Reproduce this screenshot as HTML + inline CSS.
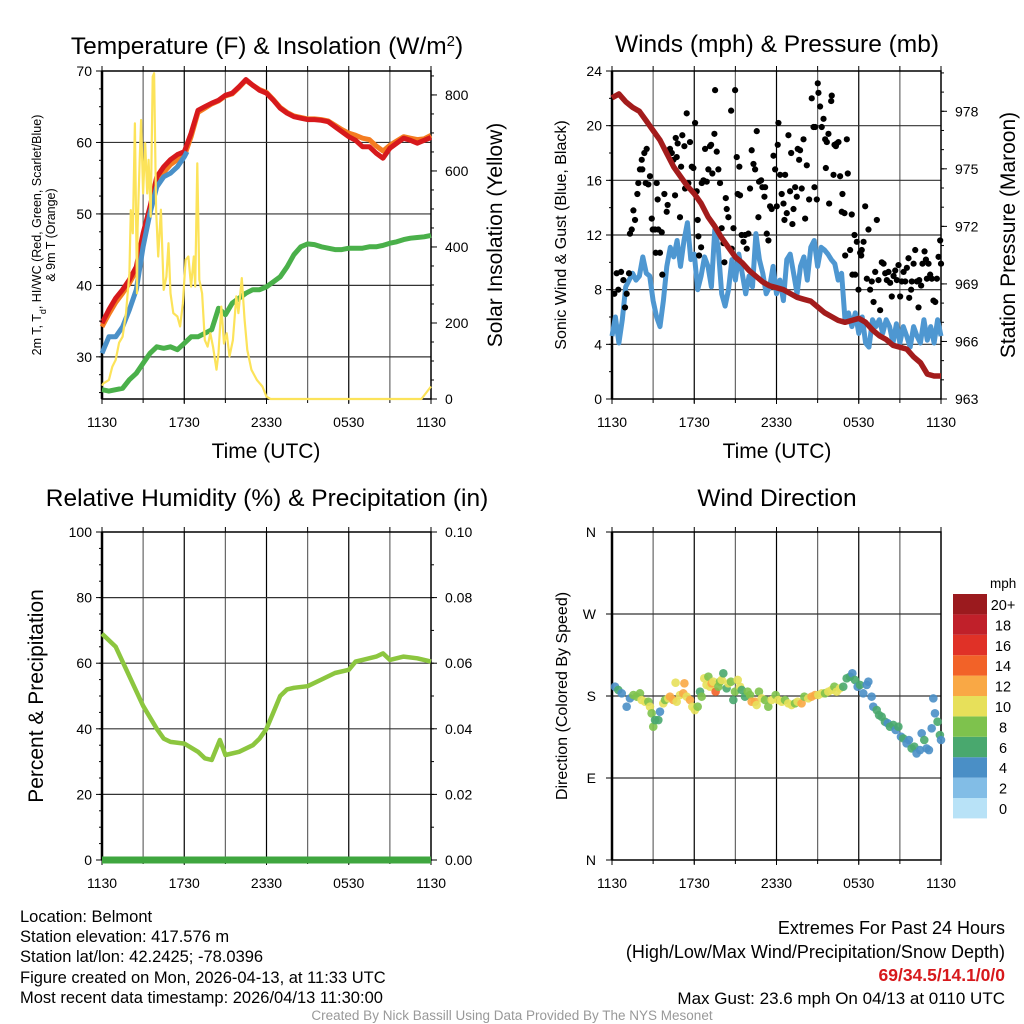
<!DOCTYPE html>
<html><head><meta charset="utf-8">
<style>
html,body{margin:0;padding:0;background:#fff;}
svg{display:block;font-family:"Liberation Sans",Arial,sans-serif;}
</style></head>
<body>
<svg id="s" width="1024" height="1024" viewBox="0 0 1024 1024" xmlns="http://www.w3.org/2000/svg">
<rect width="1024" height="1024" fill="#fff"/>
<text x="267" y="54" font-size="24.5" text-anchor="middle">Temperature (F) &amp; Insolation (W/m<tspan baseline-shift="super" font-size="15">2</tspan>)</text>
<text x="777" y="52" font-size="24.5" text-anchor="middle">Winds (mph) &amp; Pressure (mb)</text>
<text x="267" y="506" font-size="24.5" text-anchor="middle">Relative Humidity (%) &amp; Precipitation (in)</text>
<text x="777" y="506" font-size="24.5" text-anchor="middle">Wind Direction</text>

<text x="266" y="458" font-size="21" text-anchor="middle">Time (UTC)</text>
<text x="777" y="458" font-size="21" text-anchor="middle">Time (UTC)</text>

<text transform="translate(41,235) rotate(-90)" font-size="12.5" text-anchor="middle">2m T, T<tspan baseline-shift="sub" font-size="9">d</tspan>, HI/WC (Red, Green, Scarlet/Blue)</text>
<text transform="translate(55,235) rotate(-90)" font-size="12.5" text-anchor="middle">&amp; 9m T (Orange)</text>
<text transform="translate(502,235) rotate(-90)" font-size="21" text-anchor="middle">Solar Insolation (Yellow)</text>
<text transform="translate(566,235) rotate(-90)" font-size="16" text-anchor="middle">Sonic Wind &amp; Gust (Blue, Black)</text>
<text transform="translate(1015,235) rotate(-90)" font-size="21" text-anchor="middle">Station Pressure (Maroon)</text>
<text transform="translate(43,696) rotate(-90)" font-size="21" text-anchor="middle">Percent &amp; Precipitation</text>
<text transform="translate(567,696) rotate(-90)" font-size="16" text-anchor="middle">Direction (Colored By Speed)</text>

<g font-size="16.5">
<text x="20" y="922">Location: Belmont</text>
<text x="20" y="942">Station elevation: 417.576 m</text>
<text x="20" y="962">Station lat/lon: 42.2425; -78.0396</text>
<text x="20" y="983">Figure created on Mon, 2026-04-13, at 11:33 UTC</text>
<text x="20" y="1003">Most recent data timestamp: 2026/04/13 11:30:00</text>
</g>
<g text-anchor="end">
<text x="1005" y="934" font-size="18">Extremes For Past 24 Hours</text>
<text x="1005" y="958" font-size="18">(High/Low/Max Wind/Precipitation/Snow Depth)</text>
<text x="1005" y="981" font-size="17.5" font-weight="bold" fill="#d7191c">69/34.5/14.1/0/0</text>
<text x="1005" y="1004" font-size="17">Max Gust: 23.6 mph On 04/13 at 0110 UTC</text>
</g>
<text x="512" y="1020" font-size="13.5" fill="#999" text-anchor="middle">Created By Nick Bassill Using Data Provided By The NYS Mesonet</text>
<g id="g"></g>
</svg>
<script>
// ---------- DATA ----------
const tempHours=[0,0.5,1,1.5,2,2.5,3,3.5,4,4.5,5,5.5,6,6.5,7,7.5,8,8.5,9,9.5,10,10.5,11,11.5,12,12.5,13,13.5,14,14.5,15,15.5,16,16.5,17,17.5,18,18.5,19,19.5,20,20.5,21,21.5,22,22.5,23,23.5,24];
const temp2m=[34.7,36.6,38.2,39.4,40.8,42.6,47.3,51,55.2,56.6,57.6,58.3,58.7,61.3,64.5,65,65.5,65.9,66.6,66.9,67.8,68.8,68,67.3,66.9,65.9,64.8,64.1,63.6,63.4,63.2,63.2,63.1,62.9,62.2,61.5,60.8,60.3,59.4,59.4,58.5,57.8,59.2,59.9,60.6,60.3,59.9,60.3,60.7];
const temp9m=[34.2,36,37.6,38.9,40.3,42.1,46.6,50.4,54.4,55.8,56.9,57.6,58.1,60.8,64.2,64.8,65.4,65.8,66.5,66.8,67.7,68.7,68,67.4,67,66,64.9,64.2,63.7,63.5,63.3,63.3,63.2,63,62.4,61.8,61.3,61,60.6,60.4,59.5,58.8,59.6,60.2,60.8,60.6,60.4,60.5,61];
const windChillHours=[0,0.5,1,1.5,2,2.5,3,3.5,4,4.5,5,5.5,6,6.2];
const windChill=[30.5,32.8,32.8,34.2,36.6,39.4,45.4,50.1,53.8,55.2,55.7,56.6,58,58.7];
const dewpoint=[25.4,25.2,25.4,25.6,26.8,27.7,29.1,30.5,31.4,31.2,31.4,31,31.9,32.8,32.8,33.3,33.8,36.8,35.9,37.5,38.2,38.9,39.4,39.4,39.8,40.5,41.2,42.6,44.3,45.4,45.8,45.7,45.4,45.2,45,45,45.2,45.2,45.2,45.4,45.4,45.6,45.9,46.1,46.4,46.6,46.7,46.8,47];
const solarHours=[0,0.1,0.5,0.75,1,1.25,1.5,1.75,2,2.1,2.25,2.4,2.55,2.6,2.75,2.85,3,3.15,3.3,3.4,3.55,3.7,3.8,3.95,4.1,4.3,4.5,4.7,4.85,5,5.2,5.5,5.7,5.9,6.1,6.3,6.5,6.7,6.8,6.95,7.1,7.3,7.5,7.7,7.9,8.1,8.35,8.5,8.7,8.9,9.1,9.3,9.55,9.8,9.95,10.2,10.4,10.6,10.9,11.3,11.7,12,12.3,23.3,24];
const solar=[35,41,50,85,103,148,164,226,331,497,436,725,278,450,629,734,541,673,541,629,480,848,857,498,375,498,287,322,410,278,226,217,191,252,366,375,296,375,296,620,314,278,155,138,173,138,77,121,243,146,173,112,155,270,226,318,208,129,77,50,33,6,0,0,33];
const windHours=[0,0.25,0.5,0.75,1,1.25,1.5,1.75,2,2.25,2.5,2.75,3,3.25,3.5,3.75,4,4.25,4.5,4.75,5,5.25,5.5,5.75,6,6.25,6.5,6.75,7,7.25,7.5,7.75,8,8.25,8.5,8.75,9,9.25,9.5,9.75,10,10.25,10.5,10.75,11,11.25,11.5,11.75,12,12.25,12.5,12.75,13,13.25,13.5,13.75,14,14.25,14.5,14.75,15,15.25,15.5,15.75,16,16.25,16.5,16.75,17,17.25,17.5,17.75,18,18.25,18.5,18.75,19,19.25,19.5,19.75,20,20.25,20.5,20.75,21,21.25,21.5,21.75,22,22.25,22.5,22.75,23,23.25,23.5,23.75,24];
const windSpeed=[4.6,6.0,4.1,5.8,8.2,8.7,9.2,8.7,9.0,10.4,9.2,9.0,7.2,6.0,5.3,7.2,9.7,11.1,10.4,11.6,9.7,11.6,12.9,10.2,10.6,8.0,9.0,10.4,9.7,8.2,12.4,11.1,7.7,6.8,8.0,10.2,8.7,10.6,9.2,7.7,9.0,8.2,12.1,10.2,9.2,7.7,8.2,9.7,7.7,8.7,7.2,10.2,10.6,9.2,7.7,9.7,10.4,8.7,11.1,11.6,9.7,11.1,10.9,10.6,10.2,9.9,8.7,9.2,5.8,6.3,5.3,6.3,4.8,6.0,4.1,3.8,5.8,5.3,5.8,4.8,5.8,5.3,4.1,5.5,4.1,5.3,4.6,3.8,5.3,4.6,4.1,5.8,4.3,5.3,4.1,5.8,4.6];
const pressure=[978.7,978.9,978.5,978.2,978.0,977.5,977.0,976.5,975.8,975.1,974.6,974.1,973.7,973.2,972.5,972.0,971.4,970.9,970.4,970.1,969.7,969.4,969.1,968.9,968.8,968.7,968.5,968.3,968.2,968.1,967.8,967.5,967.3,967.1,967.0,967.1,967.2,967.0,966.6,966.3,966.1,965.8,965.7,965.6,965.2,964.9,964.3,964.2,964.2];
const gustHours=[0.17,0.34,0.46,0.66,0.83,0.95,1.07,1.24,1.31,1.44,1.56,1.68,1.85,1.92,2.04,2.17,2.21,2.36,2.46,2.53,2.65,2.77,2.9,2.97,3.14,3.19,3.26,3.33,3.38,3.5,3.63,3.67,3.82,3.99,4.06,4.11,4.23,4.36,4.48,4.6,4.65,4.72,4.79,4.96,5.04,5.13,5.28,5.33,5.45,5.57,5.69,5.82,5.94,6.06,6.18,6.25,6.3,6.35,6.5,6.55,6.67,6.79,6.91,7.03,7.15,7.23,7.32,7.47,7.52,7.64,7.76,7.88,8.0,8.13,8.2,8.3,8.37,8.49,8.69,8.73,8.86,8.98,9.1,9.17,9.29,9.34,9.46,9.59,9.71,9.83,9.95,10.07,10.19,10.32,10.44,10.56,10.68,10.73,10.88,10.97,11.12,11.17,11.29,11.41,11.53,11.65,11.78,11.9,12.02,12.09,12.14,12.26,12.38,12.51,12.58,12.63,12.75,12.87,12.99,13.07,13.16,13.24,13.36,13.48,13.55,13.65,13.72,13.84,13.97,14.09,14.21,14.38,14.57,14.7,14.77,14.82,14.94,15.01,15.06,15.18,15.3,15.43,15.55,15.6,15.67,15.79,15.84,15.99,16.03,16.16,16.23,16.33,16.4,16.52,16.64,16.76,16.81,16.96,17.01,17.13,17.2,17.37,17.49,17.54,17.69,17.74,17.86,17.98,18.1,18.18,18.22,18.35,18.47,18.59,18.71,18.83,18.95,19.08,19.2,19.32,19.44,19.56,19.68,19.81,19.93,20.05,20.17,20.29,20.41,20.54,20.66,20.78,20.9,21.02,21.14,21.27,21.39,21.51,21.63,21.68,21.82,21.87,22.0,22.12,22.24,22.36,22.41,22.55,22.65,22.8,22.9,22.97,23.09,23.21,23.33,23.45,23.58,23.7,23.82,23.94,24.0];
const gustSpeed=[7.7,9.2,8.0,9.3,8.7,6.7,7.7,9.2,12.1,12.4,13.8,13.1,15.0,15.8,16.8,17.5,16.8,18.0,15.8,18.3,15.7,16.3,13.2,12.4,12.4,10.7,15.8,14.6,12.4,10.7,12.2,9.1,15.0,13.7,14.2,18.2,18.3,18.0,17.5,14.9,19.1,17.7,18.7,13.3,17.0,19.3,18.5,15.4,20.9,15.8,18.8,17.0,16.9,20.2,15.2,13.1,11.9,10.5,11.1,15.8,16.0,18.3,15.9,16.8,18.5,18.6,16.5,19.4,22.6,18.1,16.8,15.8,12.5,11.4,10.0,14.7,13.9,13.3,21.1,11.0,12.5,22.6,17.7,15.0,17.0,14.9,12.0,11.5,12.0,11.0,12.1,15.4,18.2,17.2,16.8,19.6,13.3,15.9,16.0,15.5,14.8,15.5,12.1,11.6,14.1,13.9,17.8,16.8,14.1,18.6,20.2,16.4,15.0,14.3,13.1,16.4,13.6,19.3,15.2,18.0,12.8,13.9,15.5,14.8,18.3,17.5,18.2,15.4,19.0,13.2,17.1,14.6,22.0,19.9,15.5,19.9,14.6,23.1,22.4,21.4,19.9,20.5,19.0,16.9,18.8,19.4,14.3,21.8,22.2,16.4,18.6,18.5,18.7,18.8,16.3,13.7,15.0,13.6,10.5,19.0,16.5,10.9,13.5,9.1,12.0,9.1,11.5,8.0,10.7,10.5,10.9,11.5,14.1,8.8,12.4,8.0,8.6,7.1,9.3,13.1,8.7,6.5,10.0,9.9,9.2,8.7,9.3,8.5,7.5,9.0,9.4,8.7,9.8,7.5,8.6,9.3,8.6,9.6,10.3,7.4,8.0,8.6,9.9,10.9,8.6,6.7,8.7,8.3,9.9,10.8,10.2,8.8,9.9,9.1,8.8,7.2,7.1,8.8,10.4,11.6,9.9];
const rhHours=[0,1,2,3,4,4.5,5,6,7,7.5,8,8.6,9,10,11,11.5,12,12.5,13,13.5,14,15,16,17,18,18.5,19,20,20.5,21,22,23,24];
const rh=[69,65,56,47,40,37,36,35.5,33,31,30.5,36.6,32,33,35,37,40,45,50,52,52.5,53,55,57,58,60.5,61,62,63,61,62,61.5,60.5];
const precipHours=[0,24];
const precip=[0,0];
const dirHours=[0.22,0.46,0.71,1.07,1.31,1.56,1.80,2.04,2.16,2.41,2.65,2.77,2.89,3.01,3.14,3.38,3.50,3.74,3.87,4.11,4.23,4.47,4.64,4.72,4.96,5.20,5.28,5.45,5.69,5.86,6.05,6.25,6.42,6.54,6.73,6.90,7.03,7.15,7.27,7.39,7.56,7.76,7.88,8.00,8.12,8.36,8.49,8.68,8.85,8.97,9.17,9.34,9.46,9.70,9.90,10.07,10.19,10.43,10.55,10.72,10.92,11.16,11.40,11.65,11.94,12.13,12.38,12.62,12.86,13.10,13.35,13.54,13.83,14.03,14.32,14.56,14.81,15.05,15.30,15.54,15.78,16.02,16.22,16.39,16.63,16.87,17.12,17.36,17.53,17.72,17.92,18.09,18.33,18.58,18.70,18.94,19.06,19.31,19.48,19.67,19.91,20.11,20.28,20.52,20.69,20.89,21.08,21.25,21.49,21.66,21.86,22.05,22.22,22.47,22.59,22.78,22.95,23.12,23.32,23.44,23.56,23.75,23.92,24.0];
const dirValues=[190.2,186.6,182.9,168.3,177.4,181.1,179.3,182.9,175.6,173.8,173.8,168.3,161,146.3,153.6,153.6,162.8,171.9,175.6,177.4,179.3,175.6,194.6,173.8,181.1,182.9,193.9,179.3,175.6,168.3,164.6,168.3,184.8,179.3,199.4,192.1,201.2,190.2,193.9,195.7,184.8,190.2,195.7,197.6,204.9,188.4,193.9,195.7,175.6,184.8,197.6,190.2,186.6,179.3,184.8,181.1,173.8,173.8,170.1,184.8,177.4,175.6,168.3,175.6,181.1,175.6,173.8,175.6,171.9,170.1,171.9,173.8,171.9,179.3,177.4,179.3,181.1,181.1,182.9,182.9,184.8,186.6,190.2,184.8,188.4,190.2,199.4,201.2,204.9,197.6,190.2,192.1,182.9,192.1,195.7,179.3,168.3,164.6,159.1,157.3,151.8,150,146.3,148.2,142.7,146.3,135.3,133.5,128,131.7,122.5,124.4,117,120.7,139,131.7,122.5,120.7,144.5,177.4,161,151.8,137.2,131.7,142.7];
const dirSpeeds=[4,6,4,4,4,8,8,8,10,10,8,10,8,8,6,6,4,10,8,10,12,12,10,10,10,12,12,10,12,10,10,8,6,8,10,10,8,10,12,10,14,8,8,10,6,6,10,8,6,8,10,10,6,6,8,8,12,12,10,8,10,8,8,10,8,10,10,8,10,10,8,10,12,8,10,12,12,10,10,8,10,10,8,10,10,6,6,6,4,6,4,6,4,4,4,4,4,6,6,6,6,4,6,6,4,6,4,6,4,4,6,6,4,4,4,6,4,4,4,4,4,6,6,4];
const colorLabels=["0","2","4","6","8","10","12","14","16","18","20+"];
const speedColors=["#b8e2f7","#82bde6","#4a8fc6","#49a86e","#7ec24d","#e7e05a","#f9a845","#f26228","#e03127","#c0202a","#9b1a1e"];
const timeTicks=["1130","1730","2330","0530","1130"];

// ---------- HELPERS ----------
const NS="http://www.w3.org/2000/svg";
const G=document.getElementById('g');
function mk(tag,attrs,parent){const e=document.createElementNS(NS,tag);for(const k in attrs)e.setAttribute(k,attrs[k]);(parent||G).appendChild(e);return e;}
function xScale(p){return h=>p.x0+h/24*(p.x1-p.x0);}
function yScale(p,lo,hi){return v=>p.y1-(v-lo)/(hi-lo)*(p.y1-p.y0);}
function pathD(xs,ys,sx,sy){return xs.map((h,i)=>(i?'L':'M')+sx(h).toFixed(1)+','+sy(ys[i]).toFixed(1)).join('');}

const P1={x0:102,x1:431,y0:71,y1:399},P2={x0:612,x1:941,y0:71,y1:399},P3={x0:102,x1:431,y0:532,y1:860},P4={x0:612,x1:941,y0:532,y1:860};

function frame(p,name,hLines){
  const g=mk('g',{});
  
  
  for(let i=1;i<8;i++){const x=p.x0+i*(p.x1-p.x0)/8;mk('line',{x1:x,x2:x,y1:p.y0,y2:p.y1,stroke:i%2?'#666':'#000','stroke-width':1.2},g);}
  hLines.forEach(y=>{mk('line',{x1:p.x0,x2:p.x1,y1:y,y2:y,stroke:'#333','stroke-width':1.2},g);});
  const b=mk('rect',{x:p.x0,y:p.y0,width:p.x1-p.x0,height:p.y1-p.y0,fill:'none',stroke:'#000','stroke-width':1.5});
  
  
  mk('line',{x1:p.x0,x2:p.x0,y1:p.y0,y2:p.y1,stroke:'#000','stroke-width':2.5});
  const sx=xScale(p);
  timeTicks.forEach((t,i)=>{const x=sx(i*6);mk('line',{x1:x,x2:x,y1:p.y1,y2:p.y1+5,stroke:'#000'});
    const tx=mk('text',{x:x,y:p.y1+28,'font-size':14,'text-anchor':'middle'});tx.textContent=t;
    
    });
  for(let h=0;h<=24;h+=3){const x=sx(h);mk('line',{x1:x,x2:x,y1:p.y0-5,y2:p.y0,stroke:'#000'});mk('line',{x1:x,x2:x,y1:p.y1,y2:p.y1+4,stroke:'#000'});}
}
function yTicks(p,vals,sy,side,fmt,minorStep,lo,hi){
  const x=side==='l'?p.x0:p.x1;const d=side==='l'?-1:1;
  vals.forEach(v=>{const y=sy(v);mk('line',{x1:x,x2:x+d*6,y1:y,y2:y,stroke:'#000'});
    const t=mk('text',{x:side==='l'?x-10:x+14,y:y+5,'font-size':14,'text-anchor':side==='l'?'end':'start'});t.textContent=fmt(v);
    
    });
  if(minorStep){for(let v=lo;v<=hi+1e-9;v+=minorStep){const y=sy(v);if(y<p.y0-0.5||y>p.y1+0.5)continue;mk('line',{x1:x,x2:x+d*3,y1:y,y2:y,stroke:'#000'});}}
}

// ---------- PANEL 1 ----------
const t1=yScale(P1,24.1,70), s1=yScale(P1,0,863), x1=xScale(P1);
frame(P1,'temperature',[30,40,50,60].map(t1));
let e;
e=mk('path',{d:pathD(tempHours,dewpoint,x1,t1),fill:'none',stroke:'#4ab04a','stroke-width':5,'stroke-linejoin':'round'});


e=mk('path',{d:pathD(tempHours,temp9m,x1,t1),fill:'none',stroke:'#f47c20','stroke-width':5,'stroke-linejoin':'round'});


e=mk('path',{d:pathD(tempHours,temp2m,x1,t1),fill:'none',stroke:'#d7191c','stroke-width':5,'stroke-linejoin':'round'});


e=mk('path',{d:pathD(windChillHours,windChill,x1,t1),fill:'none',stroke:'#4a90c8','stroke-width':5,'stroke-linejoin':'round'});


e=mk('path',{d:pathD(solarHours,solar,x1,s1),fill:'none',stroke:'#fce35a','stroke-width':2.2,'stroke-linejoin':'round'});


yTicks(P1,[30,40,50,60,70],t1,'l',v=>v,2.5,25,70);
yTicks(P1,[0,200,400,600,800],s1,'r',v=>v,50,0,850);

// ---------- PANEL 2 ----------
const w2=yScale(P2,0,24), p2=yScale(P2,963,980.1), x2=xScale(P2);
frame(P2,'winds',[4,8,12,16,20].map(w2));
e=mk('path',{d:pathD(windHours,windSpeed,x2,w2),fill:'none',stroke:'#4e97d1','stroke-width':5,'stroke-linejoin':'round'});


const gg=mk('g',{});


gustHours.forEach((h,i)=>{mk('circle',{cx:x2(h),cy:w2(gustSpeed[i]),r:3.1,fill:'#000'},gg);});
e=mk('path',{d:pathD(tempHours,pressure,x2,p2),fill:'none',stroke:'#a31c1c','stroke-width':5.5,'stroke-linejoin':'round'});


yTicks(P2,[0,4,8,12,16,20,24],w2,'l',v=>v,2,0,24);
yTicks(P2,[963,966,969,972,975,978],p2,'r',v=>v,1,963,980);

// ---------- PANEL 3 ----------
const r3=yScale(P3,0,100), q3=yScale(P3,0,0.1), x3=xScale(P3);
frame(P3,'humidity',[20,40,60,80].map(r3));
e=mk('path',{d:pathD(rhHours,rh,x3,r3),fill:'none',stroke:'#8cc63f','stroke-width':4.5,'stroke-linejoin':'round'});


e=mk('path',{d:pathD(precipHours,precip,x3,q3),fill:'none',stroke:'#3fa63f','stroke-width':7});


yTicks(P3,[0,20,40,60,80,100],r3,'l',v=>v,5,0,100);
yTicks(P3,[0,0.02,0.04,0.06,0.08,0.1],q3,'r',v=>v.toFixed(2),0.01,0,0.1);

// ---------- PANEL 4 ----------
const d4=yScale(P4,0,360), x4=xScale(P4);
frame(P4,'wind-direction',[90,180,270].map(d4));
const dg=mk('g',{});


dirHours.forEach((h,i)=>{const c=speedColors[Math.min(10,Math.floor(dirSpeeds[i]/2))];mk('circle',{cx:x4(h),cy:d4(dirValues[i]),r:4.3,fill:c,'fill-opacity':0.9},dg);});
const dirLabels=["N","E","S","W","N"];
dirLabels.forEach((l,i)=>{const y=d4(i*90);mk('line',{x1:P4.x0,x2:P4.x0-6,y1:y,y2:y,stroke:'#000'});const t=mk('text',{x:P4.x0-16,y:y+5,'font-size':14,'text-anchor':'end'});t.textContent=l;
  
  });
const cb=mk('g',{});


const cbTop=594,cbH=20.4;
const ut=mk('text',{x:990,y:588,'font-size':13.5},cb);ut.textContent='mph';
speedColors.forEach((c,i)=>{const y=cbTop+(10-i)*cbH;mk('rect',{x:953,y:y,width:34,height:cbH,fill:c},cb);
  const t=mk('text',{x:1003,y:y+16,'font-size':14.5,'text-anchor':'middle'},cb);t.textContent=colorLabels[i];});
</script>
</body></html>
